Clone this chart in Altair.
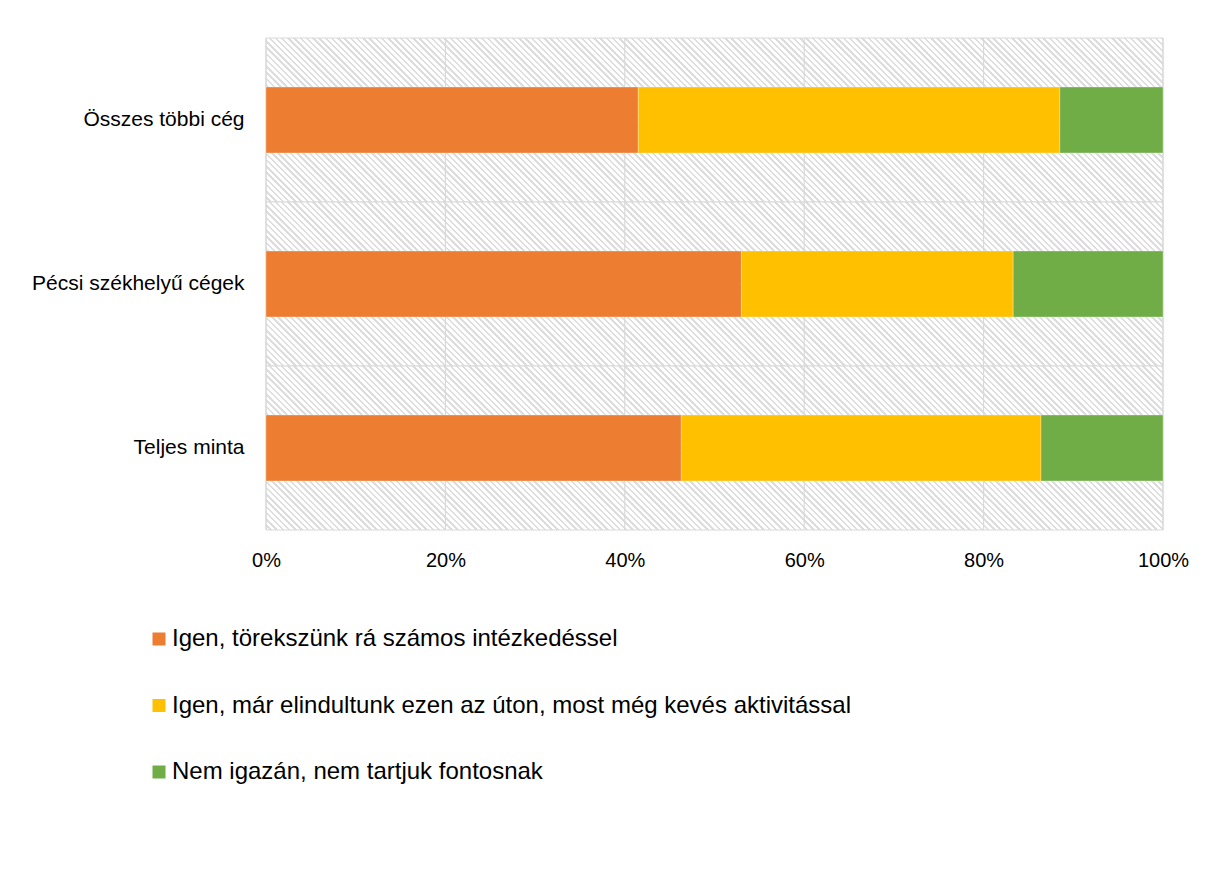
import altair as alt
import pandas as pd

categories = ["Összes többi cég", "Pécsi székhelyű cégek", "Teljes minta"]
series = [
    "Igen, törekszünk rá számos intézkedéssel",
    "Igen, már elindultunk ezen az úton, most még kevés aktivitással",
    "Nem igazán, nem tartjuk fontosnak",
]
s_igen_sok = [41.5, 53.0, 46.3]
s_igen_keves = [47.0, 30.3, 40.1]
s_nem = [11.5, 16.7, 13.6]
colors = ["#ED7D31", "#FFC000", "#70AD47"]
tick_values = [0, 0.2, 0.4, 0.6, 0.8, 1.0]

rows = []
for i, c in enumerate(categories):
    for j, vals in enumerate([s_igen_sok, s_igen_keves, s_nem]):
        rows.append({"cat": c, "series": series[j], "value": vals[i], "order": j})
df = pd.DataFrame(rows)
bg_df = pd.DataFrame({"cat": categories, "x0": [0.0] * 3, "x1": [1.0] * 3})
grid_df = pd.DataFrame({"x": tick_values})

# diagonal hatch as a striped linear gradient (style only)
W, H = 897, 164
r = H / W
k = (1 + r) / (1 + r * r)
N = 170
stops = []
for i in range(N):
    a = round(i / N, 5)
    b = round((i + 0.6) / N, 5)
    c = round((i + 1) / N, 5)
    stops += [
        alt.GradientStop(color="#ffffff", offset=a),
        alt.GradientStop(color="#ffffff", offset=b),
        alt.GradientStop(color="#dddddd", offset=b),
        alt.GradientStop(color="#dddddd", offset=c),
    ]
hatch = alt.LinearGradient(gradient="linear", stops=stops, x1=0, y1=1, x2=k, y2=1 - k * r)

xscale = alt.Scale(domain=[0, 1], nice=False, zero=True)
xaxis = alt.Axis(
    title=None, values=tick_values, format=".0%", domain=False, ticks=False,
    grid=False, labelFontSize=20, labelPadding=20, labelColor="#000000",
    labelFlush=False, labelOverlap=False,
)
yenc = alt.Y(
    "cat:N",
    sort=categories,
    scale=alt.Scale(paddingInner=0, paddingOuter=0),
    axis=alt.Axis(
        title=None, domain=False, ticks=False, grid=False,
        labelFontSize=21, labelPadding=22, labelColor="#000000", labelLimit=400,
    ),
)

bg = alt.Chart(bg_df).mark_rect(fill=hatch, stroke="#d9d9d9", strokeWidth=1).encode(
    y=yenc,
    x=alt.X("x0:Q", scale=xscale, axis=xaxis),
    x2="x1:Q",
)

grid = alt.Chart(grid_df).mark_rule(color="#d9d9d9", strokeWidth=1.2).encode(
    x=alt.X("x:Q", scale=xscale, axis=xaxis)
)

bars = alt.Chart(df).mark_bar(
    height=alt.RelativeBandSize(band=0.402), stroke="#ffffff", strokeWidth=0.5, strokeOpacity=0.6
).encode(
    y=yenc,
    x=alt.X("value:Q", stack="normalize", scale=xscale, axis=xaxis),
    color=alt.Color(
        "series:N",
        scale=alt.Scale(domain=series, range=colors),
        legend=alt.Legend(
            title=None, orient="none", legendX=-119, legendY=589, direction="vertical",
            padding=0, symbolType="square", symbolSize=169, symbolStrokeWidth=0,
            labelFontSize=24, labelOffset=1, rowPadding=42.5, labelLimit=1000,
            labelColor="#000000",
        ),
    ),
    order=alt.Order("order:Q"),
)

chart = (
    alt.layer(bg, grid, bars)
    .properties(
        width=897,
        height=492,
        autosize=alt.AutoSizeParams(type="none"),
        padding={"left": 258, "top": 30, "right": 45, "bottom": 348},
    )
    .configure(font="Liberation Sans")
    .configure_view(strokeWidth=0)
)

chart.save("out.html", embed_options={"renderer": "svg", "actions": False})
